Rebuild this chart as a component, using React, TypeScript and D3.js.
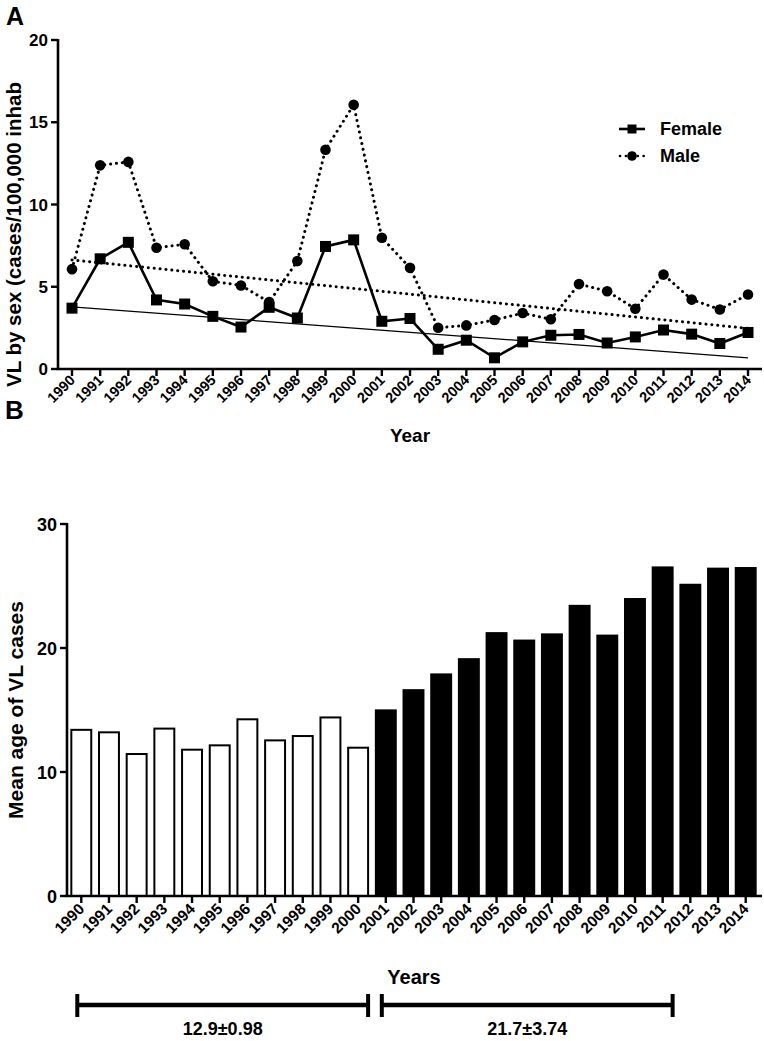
import React from "react";
import * as d3 from "d3";

// ---------- data ----------
const years = [
  "1990", "1991", "1992", "1993", "1994", "1995", "1996", "1997", "1998", "1999",
  "2000", "2001", "2002", "2003", "2004", "2005", "2006", "2007", "2008", "2009",
  "2010", "2011", "2012", "2013", "2014",
];
const femaleRate = [
  3.7, 6.7, 7.7, 4.2, 3.95, 3.2, 2.55, 3.75, 3.1, 7.45,
  7.85, 2.9, 3.07, 1.2, 1.75, 0.68, 1.65, 2.05, 2.1, 1.58,
  1.95, 2.37, 2.12, 1.55, 2.22,
];
const maleRate = [
  6.07, 12.38, 12.59, 7.37, 7.58, 5.33, 5.08, 4.07, 6.56, 13.33,
  16.06, 7.98, 6.15, 2.51, 2.65, 2.98, 3.4, 3.02, 5.16, 4.73,
  3.66, 5.74, 4.22, 3.62, 4.53,
];
// linear trend lines (value at first and last year)
const trendYears = ["1990", "2014"];
const femaleTrend = [3.78, 0.68];
const maleTrend = [6.63, 2.47];
const yTicksA = [0, 5, 10, 15, 20];

const meanAge = [
  13.4, 13.2, 11.45, 13.5, 11.8, 12.15, 14.25, 12.55, 12.9, 14.4,
  11.96, 14.97, 16.6, 17.87, 19.1, 21.2, 20.6, 21.1, 23.4, 21.0,
  23.95, 26.5, 25.1, 26.4, 26.45,
];
const yTicksB = [0, 10, 20, 30];
const periodFrom = ["1990", "2001"];
const periodTo = ["2000", "2011"];
const periodLabels = ["12.9\u00b10.98", "21.7\u00b13.74"];
const blackFrom = "2001";

const FONT = "'Liberation Sans', Arial, Helvetica, sans-serif";

export default function App() {
  // ---------- panel A scales ----------
  const xA = d3.scalePoint<string>().domain(years).range([72, 748]);
  const yA = d3.scaleLinear().domain([0, 20]).range([369, 40]);
  const axA = { left: 58, right: 762 };

  const lineA = d3
    .line<[string, number]>()
    .x((d) => xA(d[0]) as number)
    .y((d) => yA(d[1]));

  const femalePts: [string, number][] = years.map((y, i) => [y, femaleRate[i]]);
  const malePts: [string, number][] = years.map((y, i) => [y, maleRate[i]]);
  const fTrend: [string, number][] = trendYears.map((y, i) => [y, femaleTrend[i]]);
  const mTrend: [string, number][] = trendYears.map((y, i) => [y, maleTrend[i]]);

  // ---------- panel B scales ----------
  const xB = d3
    .scaleBand<string>()
    .domain(years)
    .range([68, 759])
    .paddingInner(0.28)
    .paddingOuter(0.12);
  const yB = d3.scaleLinear().domain([0, 30]).range([896, 524]);
  const axB = { left: 67, right: 762 };
  const bw = xB.bandwidth();

  const dotted = { strokeDasharray: "0.1 5.8", strokeLinecap: "round" as const };

  return (
    <svg
      width={764}
      height={1041}
      style={{ position: "absolute", left: 0, top: 0, background: "#fff" }}
      fontFamily={FONT}
    >
      <rect x={0} y={0} width={764} height={1041} fill="#fff" />

      {/* ================= PANEL A ================= */}
      <text x={6} y={25} fontSize={25} fontWeight="bold">A</text>

      {/* trend lines */}
      <path d={lineA(fTrend) as string} fill="none" stroke="#000" strokeWidth={1.2} />
      <path d={lineA(mTrend) as string} fill="none" stroke="#000" strokeWidth={3} {...dotted} />

      {/* male series */}
      <path d={lineA(malePts) as string} fill="none" stroke="#000" strokeWidth={3} {...dotted} />
      {malePts.map((d) => (
        <circle key={"m" + d[0]} cx={xA(d[0])} cy={yA(d[1])} r={5.3} fill="#000" />
      ))}

      {/* female series */}
      <path d={lineA(femalePts) as string} fill="none" stroke="#000" strokeWidth={2.6} />
      {femalePts.map((d) => (
        <rect
          key={"f" + d[0]}
          x={(xA(d[0]) as number) - 5.5}
          y={yA(d[1]) - 5.5}
          width={11}
          height={11}
          fill="#000"
        />
      ))}

      {/* axes A */}
      <line x1={axA.left} x2={axA.left} y1={yA(20) - 1} y2={yA(0)} stroke="#000" strokeWidth={2.6} />
      <line x1={axA.left - 1.3} x2={axA.right} y1={yA(0)} y2={yA(0)} stroke="#000" strokeWidth={2.6} />
      {yTicksA.map((t) => (
        <g key={"ya" + t}>
          <line x1={axA.left - 7} x2={axA.left} y1={yA(t)} y2={yA(t)} stroke="#000" strokeWidth={2.4} />
          <text x={axA.left - 10} y={yA(t) + 6} fontSize={17} fontWeight="bold" textAnchor="end">
            {t}
          </text>
        </g>
      ))}
      {years.map((y) => (
        <g key={"xa" + y}>
          <line x1={xA(y)} x2={xA(y)} y1={yA(0)} y2={yA(0) + 7} stroke="#000" strokeWidth={2.4} />
          <text
            transform={`translate(${(xA(y) as number) + 4},${yA(0) + 12}) rotate(-45)`}
            fontSize={14.5}
            fontWeight="bold"
            textAnchor="end"
          >
            {y}
          </text>
        </g>
      ))}
      <text
        transform={`translate(21,${(yA(0) + 52) / 2 + 24}) rotate(-90)`}
        fontSize={20.5}
        fontWeight="bold"
        textAnchor="middle"
      >
        VL by sex (cases/100,000 inhab
      </text>
      <text x={410} y={442} fontSize={19} fontWeight="bold" textAnchor="middle">Year</text>

      {/* legend */}
      <g>
        <line x1={619} x2={645} y1={129} y2={129} stroke="#000" strokeWidth={2.6} />
        <rect x={627.5} y={124.5} width={9} height={9} fill="#000" />
        <text x={660} y={135} fontSize={18} fontWeight="bold">Female</text>
        <line x1={620} x2={645} y1={156} y2={156} stroke="#000" strokeWidth={2.6} {...dotted} />
        <circle cx={632} cy={156} r={4.8} fill="#000" />
        <text x={660} y={162} fontSize={18} fontWeight="bold">Male</text>
      </g>

      {/* ================= PANEL B ================= */}
      <text x={5} y={419} fontSize={26} fontWeight="bold">B</text>

      {years.map((y, i) => {
        const black = +y >= +blackFrom;
        return (
          <rect
            key={"b" + y}
            x={xB(y)}
            y={yB(meanAge[i])}
            width={bw}
            height={yB(0) - yB(meanAge[i])}
            fill={black ? "#000" : "#fff"}
            stroke="#000"
            strokeWidth={2}
          />
        );
      })}

      {/* axes B */}
      <line x1={axB.left} x2={axB.left} y1={yB(30) - 1} y2={yB(0)} stroke="#000" strokeWidth={2.6} />
      <line x1={axB.left - 1.3} x2={axB.right} y1={yB(0)} y2={yB(0)} stroke="#000" strokeWidth={2.6} />
      {yTicksB.map((t) => (
        <g key={"yb" + t}>
          <line x1={axB.left - 7} x2={axB.left} y1={yB(t)} y2={yB(t)} stroke="#000" strokeWidth={2.4} />
          <text x={axB.left - 10} y={yB(t) + 6.5} fontSize={18} fontWeight="bold" textAnchor="end">
            {t}
          </text>
        </g>
      ))}
      {years.map((y) => {
        const cx = (xB(y) as number) + bw / 2;
        return (
          <g key={"xb" + y}>
            <line x1={cx} x2={cx} y1={yB(0)} y2={yB(0) + 7} stroke="#000" strokeWidth={2.4} />
            <text
              transform={`translate(${cx + 4},${yB(0) + 14}) rotate(-45)`}
              fontSize={15.5}
              fontWeight="bold"
              textAnchor="end"
            >
              {y}
            </text>
          </g>
        );
      })}
      <text
        transform={`translate(23,${(yB(0) + yB(30)) / 2}) rotate(-90)`}
        fontSize={21}
        fontWeight="bold"
        textAnchor="middle"
      >
        Mean age of VL cases
      </text>
      <text x={414} y={984} fontSize={20} fontWeight="bold" textAnchor="middle">Years</text>

      {/* period brackets */}
      {periodFrom.map((p, i) => {
        const x1 = (xB(p) as number) + bw / 2 - 4;
        const x2 = (xB(periodTo[i]) as number) + bw;
        const yL = 1005;
        return (
          <g key={"p" + p}>
            <line x1={x1} x2={x2} y1={yL} y2={yL} stroke="#000" strokeWidth={4.5} />
            <line x1={x1} x2={x1} y1={yL - 11} y2={yL + 12} stroke="#000" strokeWidth={4} />
            <line x1={x2} x2={x2} y1={yL - 11} y2={yL + 12} stroke="#000" strokeWidth={4} />
            <text x={(x1 + x2) / 2} y={1035} fontSize={18} fontWeight="bold" textAnchor="middle">
              {periodLabels[i]}
            </text>
          </g>
        );
      })}
    </svg>
  );
}
